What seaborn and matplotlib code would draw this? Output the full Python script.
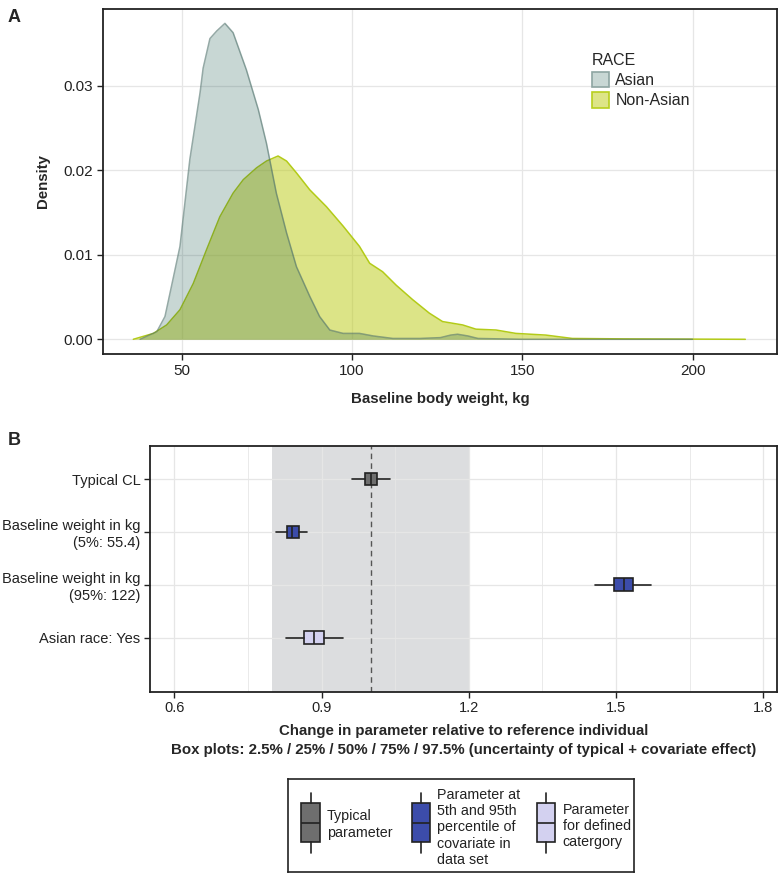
import numpy as np
import pandas as pd
import matplotlib
matplotlib.use("Agg")
import matplotlib.pyplot as plt
from matplotlib.patches import Patch
import seaborn as sns

# ---- Panel A: density of baseline body weight by race
asian_wt = [37.8, 42.7, 45.1, 47.6, 49.5, 52.4, 55.4, 56.3, 58.3, 60.3, 62.7, 65.1,
            69.0, 72.5, 74.9, 77.8, 80.8, 83.7, 87.6, 90.5, 93.5, 97.4, 102.2, 106.2,
            112.0, 120.0, 126.0, 129.0, 131.0, 134.0, 137.0, 150.0, 175.0, 200.0]
asian_dens = [0.0, 0.0009, 0.0027, 0.0074, 0.0110, 0.0213, 0.0292, 0.0321, 0.0356,
              0.0365, 0.0374, 0.0363, 0.0319, 0.0272, 0.0232, 0.0173, 0.0126, 0.0086,
              0.0051, 0.0027, 0.0011, 0.0007, 0.0007, 0.0004, 0.0001, 0.0001, 0.0002,
              0.0005, 0.0006, 0.0004, 0.0001, 0.0, 0.0, 0.0]

nonasian_wt = [35.8, 41.7, 45.6, 49.5, 53.4, 57.3, 61.2, 65.1, 68.1, 72.0, 74.9, 78.3,
               80.8, 83.7, 87.6, 92.5, 97.4, 102.2, 105.2, 109.0, 113.0, 117.8, 122.7,
               126.6, 132.5, 136.4, 142.3, 148.1, 156.9, 164.7, 180.0, 200.0, 215.5]
nonasian_dens = [0.0, 0.0007, 0.0017, 0.0035, 0.0066, 0.0106, 0.0145, 0.0173, 0.0189,
                 0.0203, 0.0211, 0.0217, 0.0211, 0.0197, 0.0177, 0.0157, 0.0134, 0.0110,
                 0.0090, 0.0080, 0.0064, 0.0047, 0.0031, 0.0021, 0.0017, 0.0012, 0.0011,
                 0.0007, 0.0005, 0.0001, 0.00005, 0.00002, 0.0]

# ---- Panel B: forest plot (2.5 / 25 / 50 / 75 / 97.5 percentiles)
cov_labels = ["Typical CL", "Baseline weight in kg\n(5%: 55.4)",
              "Baseline weight in kg\n(95%: 122)", "Asian race: Yes"]
q025 = [0.963, 0.808, 1.457, 0.827]
q25 = [0.988, 0.829, 1.496, 0.864]
q50 = [1.000, 0.840, 1.516, 0.885]
q75 = [1.014, 0.854, 1.535, 0.905]
q975 = [1.039, 0.871, 1.572, 0.944]
cov_type = ["typical", "covariate", "covariate", "category"]

type_colors = {"typical": "#6e6e6e", "covariate": "#3c4caa", "category": "#d3d1f0"}
legend_text = {"typical": "Typical\nparameter",
               "covariate": "Parameter at\n5th and 95th\npercentile of\ncovariate in\ndata set",
               "category": "Parameter\nfor defined\ncatergory"}

sns.set_theme(style="whitegrid")
plt.rcParams['font.family'] = ['Liberation Sans', 'DejaVu Sans']
plt.rcParams['axes.edgecolor'] = '#222222'
plt.rcParams['grid.color'] = '#e6e6e6'

fig = plt.figure(figsize=(7.78, 8.74), dpi=100)
W, H = 778, 874


def box(l, t, r, b):
    return [l / W, 1 - b / H, (r - l) / W, (b - t) / H]


GRID = '#e6e6e6'
DARK = '#222222'

# ================= Panel A =================
axA = fig.add_axes(box(103, 9, 777, 354))
dens = pd.concat([
    pd.DataFrame({"wt": nonasian_wt, "density": nonasian_dens, "RACE": "Non-Asian"}),
    pd.DataFrame({"wt": asian_wt, "density": asian_dens, "RACE": "Asian"}),
])
na = dens[dens.RACE == "Non-Asian"]
asn = dens[dens.RACE == "Asian"]
axA.fill_between(na.wt, na.density, color='#bbcb11', alpha=0.5, lw=0, zorder=2)
sns.lineplot(data=na, x="wt", y="density", color='#b3cb18', lw=1.1, ax=axA,
             legend=False, zorder=3, sort=False)
axA.fill_between(asn.wt, asn.density, color='#125246', alpha=0.23, lw=0, zorder=4)
sns.lineplot(data=asn, x="wt", y="density", color='#4f716b', alpha=0.6, lw=1.1, ax=axA,
             legend=False, zorder=5, sort=False)

axA.set_xlim(26.9, 224.8)
axA.set_ylim(-0.00174, 0.0391)
axA.set_xticks([50, 100, 150, 200])
axA.set_yticks([0, 0.01, 0.02, 0.03])
axA.set_yticklabels(["0.00", "0.01", "0.02", "0.03"])
axA.grid(True, color=GRID, lw=0.9)
axA.set_axisbelow(True)
for s in axA.spines.values():
    s.set_color(DARK)
    s.set_linewidth(1.3)
axA.tick_params(axis='both', which='major', length=4, width=1, color=DARK,
                labelsize=11, labelcolor='#222222', pad=3, bottom=True, left=True)
axA.set_xlabel("Baseline body weight, kg", fontsize=10.8, fontweight='bold', labelpad=10.5)
axA.set_ylabel("Density", fontsize=10.8, fontweight='bold', labelpad=10)

handles = [Patch(facecolor='#c8d7d4', edgecolor='#8ea5a2', lw=1.2, label="Asian"),
           Patch(facecolor='#dde588', edgecolor='#b8cf1f', lw=1.2, label="Non-Asian")]
legA = axA.legend(handles=handles, title="RACE", loc='upper left',
                  bbox_to_anchor=(0.714, 0.897), frameon=False, fontsize=11.5,
                  title_fontsize=11.5, handlelength=1.05, handleheight=1.15,
                  handletextpad=0.4, labelspacing=0.25, borderpad=0, alignment='left')

fig.text(8 / W, 1 - 18 / H, "A", fontsize=13, fontweight='bold', va='center', ha='left')

# ================= Panel B =================
axB = fig.add_axes(box(150, 445.7, 777, 691.7))
ypos = np.arange(len(cov_labels))
axB.axvspan(0.8, 1.2, color='#dcdddf', lw=0, zorder=0.2)
axB.axvline(1.0, color='#555555', lw=1.0, ls=(0, (4, 3)), zorder=1.5)

stats = [dict(whislo=a, q1=b, med=c, q3=d, whishi=e)
         for a, b, c, d, e in zip(q025, q25, q50, q75, q975)]
bp = axB.bxp(stats, positions=ypos, widths=0.24, orientation='horizontal',
             showfliers=False, showcaps=False, patch_artist=True,
             boxprops=dict(edgecolor=DARK, linewidth=1.2),
             medianprops=dict(color=DARK, linewidth=1.2),
             whiskerprops=dict(color=DARK, linewidth=1.2), manage_ticks=False)
for patch, t in zip(bp['boxes'], cov_type):
    patch.set_facecolor(type_colors[t])
for art in bp['boxes'] + bp['medians'] + bp['whiskers']:
    art.set_zorder(3)

axB.set_xlim(0.5505, 1.828)
axB.set_ylim(4.02, -0.63)
axB.set_xticks([0.6, 0.9, 1.2, 1.5, 1.8])
axB.set_xticklabels(["0.6", "0.9", "1.2", "1.5", "1.8"])
axB.set_xticks([0.75, 1.05, 1.35, 1.65], minor=True)
axB.set_yticks(ypos)
axB.set_yticklabels(cov_labels, ha='right', multialignment='right')
axB.grid(True, which='major', color=GRID, lw=0.9, zorder=0.5)
axB.grid(True, which='minor', axis='x', color=GRID, lw=0.6, zorder=0.5)
axB.set_axisbelow(True)
for gl in axB.get_xgridlines() + axB.get_ygridlines():
    gl.set_zorder(0.5)
for s in axB.spines.values():
    s.set_color(DARK)
    s.set_linewidth(1.3)
axB.tick_params(axis='both', which='major', length=4, width=1, color=DARK,
                labelsize=10.5, labelcolor='#222222', pad=3, bottom=True, left=True)
axB.tick_params(axis='x', which='minor', length=0)
axB.set_xlabel("Change in parameter relative to reference individual\n"
               "Box plots: 2.5% / 25% / 50% / 75% / 97.5% (uncertainty of typical + covariate effect)",
               fontsize=10.8, fontweight='bold', labelpad=6.5, linespacing=1.38)

fig.text(8 / W, 1 - 440 / H, "B", fontsize=13, fontweight='bold', va='center', ha='left')

# ================= Legend box for panel B =================
axL = fig.add_axes(box(288.3, 779, 634, 872.3))
axL.set_xticks([])
axL.set_yticks([])
axL.grid(False)
for s in axL.spines.values():
    s.set_color(DARK)
    s.set_linewidth(1.2)
glyph_x = {"typical": 22.2, "covariate": 132.5, "category": 257.9}
text_y = {"typical": 45.5, "covariate": 48.5, "category": 47.0}
for t in ["typical", "covariate", "category"]:
    axL.bxp([dict(whislo=13.7, q1=24.3, med=43.7, q3=62.7, whishi=74.3)],
            positions=[glyph_x[t]], widths=18.5, showfliers=False, showcaps=False,
            patch_artist=True, manage_ticks=False,
            boxprops=dict(edgecolor=DARK, linewidth=1.2, facecolor=type_colors[t]),
            medianprops=dict(color=DARK, linewidth=1.2),
            whiskerprops=dict(color=DARK, linewidth=1.2))
    axL.text(glyph_x[t] + 16.5, text_y[t], legend_text[t], fontsize=10.3, va='center',
             ha='left', linespacing=1.19, color='#222222')
axL.set_xlim(0, 345.7)
axL.set_ylim(93.3, 0)

fig.savefig("out.png", dpi=100)
